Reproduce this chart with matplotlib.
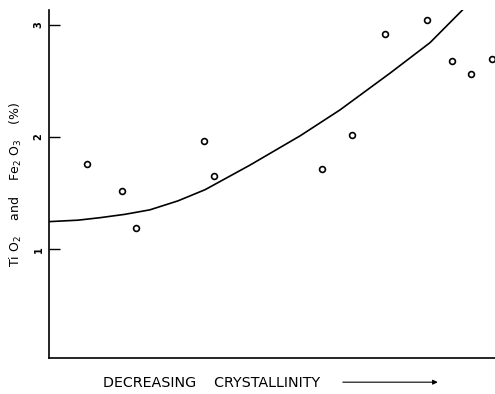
import numpy as np
import matplotlib.pyplot as plt
from matplotlib.patches import FancyArrowPatch

# measured samples (x runs toward lower crystallinity, arbitrary units)
x_obs = [0.85, 1.64, 1.95, 3.48, 3.70, 6.12, 6.79, 7.53, 8.48, 9.04, 9.46, 9.93]
oxide_pct = [1.76, 1.52, 1.19, 1.96, 1.65, 1.71, 2.02, 2.92, 3.04, 2.68, 2.56, 2.69]

# hand-drawn trend curve
x_trend = [0.0, 0.65, 1.14, 1.70, 2.26, 2.89, 3.50, 4.51, 5.63, 6.52, 7.65, 8.54, 9.39]
y_trend = [1.245, 1.258, 1.28, 1.31, 1.35, 1.43, 1.53, 1.75, 2.01, 2.24, 2.57, 2.84, 3.18]

y_ticks = [1, 2, 3]

fig = plt.figure(figsize=(4.95, 3.94), dpi=100)
ax = fig.add_axes([0.099, 0.0914, 0.905, 0.883])

ax.plot(x_trend, y_trend, color='black', lw=1.2, solid_joinstyle='round')
ax.plot(x_obs, oxide_pct, linestyle='none', marker='o', ms=4.2,
        mfc='white', mec='black', mew=1.2, clip_on=False)

ax.set_xlim(0, 10.04)
ax.set_ylim(0.03, 3.13)

ax.spines['top'].set_visible(False)
ax.spines['right'].set_visible(False)
ax.spines['left'].set_linewidth(1.2)
ax.spines['bottom'].set_linewidth(1.2)

ax.set_xticks([])
ax.set_yticks(y_ticks)
ax.set_yticklabels([str(t) for t in y_ticks], rotation=90, va='center',
                   fontsize=7, fontweight='bold')
ax.tick_params(axis='y', direction='in', length=8, width=1.0, pad=4)

ax.set_ylabel(r'Ti O$_2$    and    Fe$_2$ O$_3$    (%)', fontsize=9, labelpad=7)

# x label with arrow
fig.text(0.208, 0.028, 'DECREASING    CRYSTALLINITY',
         fontsize=10.3, ha='left', va='center')
fig.add_artist(FancyArrowPatch(
    (0.687, 0.030), (0.890, 0.030), transform=fig.transFigure,
    arrowstyle='-|>', mutation_scale=7, lw=0.8, color='black'))

fig.savefig('out.png', dpi=100)
